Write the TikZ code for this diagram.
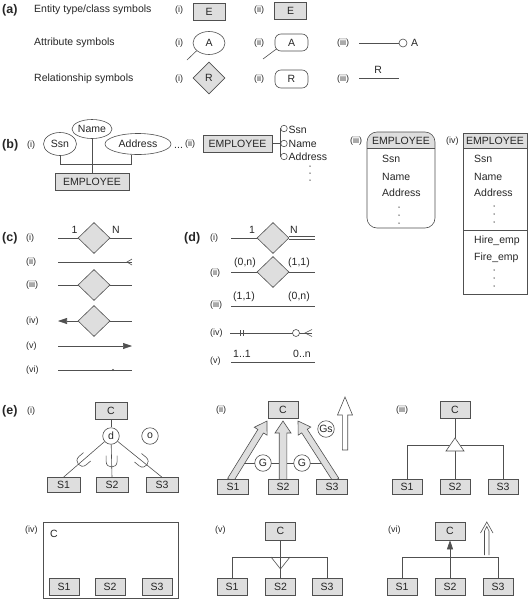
\documentclass[tikz,border=0pt]{standalone}
\usepackage{fontspec}
\setmainfont{Liberation Sans}
\usetikzlibrary{shapes.geometric,calc,arrows.meta}
\definecolor{lc}{HTML}{505050}
\definecolor{bf}{HTML}{DEDEDE}
\definecolor{tc}{HTML}{262626}
\newcommand\erfat[6]{%
  \coordinate (erh) at ($(#2)!#5!(#1)$);
  \filldraw[draw=lc, fill=#6, line width=0.6pt, line join=miter]
    ($(#1)!#3!90:(#2)$) -- ($(erh)!#3!90:(#2)$) -- ($(erh)!#4!90:(#2)$) -- (#2)
    -- ($(erh)!#4!-90:(#2)$) -- ($(erh)!#3!-90:(#2)$) -- ($(#1)!#3!-90:(#2)$) -- cycle;
}
\begin{document}
\begin{tikzpicture}[x=1pt,y=-1pt,
  every node/.style={text=tc, font=\fontsize{10.5}{12}\selectfont},
  ln/.style={draw=lc, line width=0.6pt},
  ent/.style={draw=lc, fill=bf, line width=0.6pt, inner sep=0pt, minimum width=#1, minimum height=17},
  ell/.style={ellipse, draw=lc, fill=white, line width=0.6pt, inner sep=0pt},
  rrect/.style={rectangle, rounded corners=6, draw=lc, fill=white, line width=0.6pt, inner sep=0pt},
  rel/.style={diamond, draw=lc, fill=bf, line width=0.6pt, inner sep=0pt, minimum width=32, minimum height=31},
  cir/.style={circle, draw=lc, fill=white, line width=0.6pt, inner sep=0pt, minimum size=#1},
  lab/.style={anchor=west, inner sep=0pt, font=\fontsize{9}{10}\selectfont},
  sec/.style={anchor=west, inner sep=0pt, font=\fontsize{12.5}{14}\selectfont\bfseries},
  txt/.style={anchor=west, inner sep=0pt},
  dotn/.style={circle, fill=lc, inner sep=0pt, minimum size=1.5},
  ftri/.style={-{Triangle[length=9pt,width=6pt]}}
]
\useasboundingbox (0,0) rectangle (528,600);
% ---------------- (a)
\node[sec] (seca) at (2,10) {(a)};
\node[txt] (ta1) at (34,10) {Entity type/class symbols};
\node[lab] (la1i) at (175,10) {(i)};
\node[ent=32] (aE1) at (209,11.5) {E};
\node[lab] (la1ii) at (254,10) {(ii)};
\node[ent=32] (aE2) at (290.5,11) {E};
\node[txt] (ta2) at (34,43) {Attribute symbols};
\node[lab] (la2i) at (175,43) {(i)};
\node[ell, minimum width=32, minimum height=23] (aA1) at (209,43) {A};
\coordinate (aA1e) at (187,60);
\draw[ln] (aA1e) -- (aA1.212);
\node[lab] (la2ii) at (254,43) {(ii)};
\node[rrect, minimum width=33, minimum height=17] (aA2) at (291.5,42.5) {A};
\coordinate (aA2e) at (263,59);
\draw[ln] (aA2e) -- ($(aA2.south west)+(2,-2.5)$);
\node[lab] (la2iii) at (337,43) {(iii)};
\coordinate (aA3s) at (359,43);
\node[cir=8] (aA3c) at (403,43) {};
\node[txt] (aA3t) at (411,43) {A};
\draw[ln] (aA3s) -- (aA3c.west);
\node[txt] (ta3) at (34,79) {Relationship symbols};
\node[lab] (la3i) at (175,79) {(i)};
\node[rel, minimum height=32] (aR1) at (209,78) {R};
\node[lab] (la3ii) at (254,79) {(ii)};
\node[rrect, minimum width=33, minimum height=18] (aR2) at (291.5,79) {R};
\node[lab] (la3iii) at (337,79) {(iii)};
\coordinate (aR3a) at (359,78); \coordinate (aR3b) at (399,78);
\draw[ln] (aR3a) -- node[above=1pt, pos=0.48] (aR3t) {R} (aR3b);
% ---------------- (b)
\node[sec] (secb) at (2,145) {(b)};
\node[lab] (lb1) at (27,145) {(i)};
\node[ell, minimum width=33, minimum height=23] (bSsn) at (60,144) {Ssn};
\node[ell, minimum width=40, minimum height=19] (bName) at (92,129) {Name};
\node[ell, minimum width=66, minimum height=21] (bAddr) at (138,144) {Address};
\node[txt] (bMore) at (174,148) {...};
\node[ent=74] (bE1) at (92,182) {EMPLOYEE};
\coordinate (bJ1) at (60,164); \coordinate (bJ2) at (131,164);
\draw[ln] (bSsn.south) -- (bJ1) -- (bJ2) -- (bAddr.south -| bJ2);
\draw[ln] (bName.south) -- (bE1.north);
\node[lab] (lb2) at (185,144) {(ii)};
\node[ent=69] (bE2) at (237.5,143.5) {EMPLOYEE};
\node[cir=6.5] (bc1) at (284,128.5) {};
\node[cir=6.5] (bc2) at (284,143.5) {};
\node[cir=6.5] (bc3) at (284,156.5) {};
\coordinate (bv1) at (280,128.5); \coordinate (bv3) at (280,156.5);
\draw[ln] (bE2.east) -- (bc2.west);
\draw[ln] (bc1.west) -- (bv1) -- (bv3) -- (bc3.west);
\node[txt] (bt1) at (288.5,129.5) {Ssn};
\node[txt] (bt2) at (288.5,144) {Name};
\node[txt] (bt3) at (288.5,157) {Address};
\node[dotn] (bd1) at (310,166) {}; \node[dotn] (bd2) at (310,173) {}; \node[dotn] (bd3) at (310,180) {};
% (iii)
\node[lab] (lb3) at (350,141) {(iii)};
\begin{scope}
\clip[rounded corners=10] (367,132) rectangle (435,228);
\fill[bf] (367,132) rectangle (435,148);
\end{scope}
\draw[ln] (367,148) -- (435,148);
\draw[ln, rounded corners=10] (367,132) rectangle (435,228);
\node (bE3) at (401,140.5) {EMPLOYEE};
\node[txt] (b3a) at (382,158.5) {Ssn};
\node[txt] (b3b) at (382,176.5) {Name};
\node[txt] (b3c) at (382,192.5) {Address};
\node[dotn] (b3d1) at (399,207) {}; \node[dotn] (b3d2) at (399,215) {}; \node[dotn] (b3d3) at (399,223) {};
% (iv)
\node[lab] (lb4) at (446,141) {(iv)};
\fill[bf] (463,133) rectangle (527,148);
\draw[ln] (463,148) -- (527,148);
\draw[ln] (463,230) -- (527,230);
\draw[ln] (463,133) rectangle (527,294);
\node (bE4) at (495,141) {EMPLOYEE};
\node[txt] (b4a) at (474,159) {Ssn};
\node[txt] (b4b) at (474,177) {Name};
\node[txt] (b4c) at (474,193) {Address};
\node[dotn] (b4d1) at (494,206) {}; \node[dotn] (b4d2) at (494,214) {}; \node[dotn] (b4d3) at (494,222) {};
\node[txt] (b4e) at (474,241) {Hire\_emp};
\node[txt] (b4f) at (474,258) {Fire\_emp};
\node[dotn] (b4d4) at (494,270) {}; \node[dotn] (b4d5) at (494,278) {}; \node[dotn] (b4d6) at (494,286) {};
% ---------------- (c)
\node[sec] (secc) at (2,238) {(c)};
\node[lab] (lc1) at (26,238) {(i)};
\node[lab] (lc2) at (26,262) {(ii)};
\node[lab] (lc3) at (26,285) {(iii)};
\node[lab] (lc4) at (26,321) {(iv)};
\node[lab] (lc5) at (26,346) {(v)};
\node[lab] (lc6) at (26,370) {(vi)};
\node[rel] (c1d) at (94,238) {};
\coordinate (c1a) at (58,238); \coordinate (c1b) at (132,238);
\draw[ln] (c1a) -- (c1d.west); \draw[ln] (c1d.east) -- (c1b);
\node (c1n1) at (74.5,230) {1}; \node (c1n2) at (116,230) {N};
\coordinate (c2a) at (58,262); \coordinate (c2b) at (132,262); \coordinate (c2p) at (127,262);
\draw[ln] (c2a) -- (c2b);
\draw[ln] ($(c2p)+(5,-3)$) -- (c2p) -- ($(c2p)+(5,3)$);
\node[rel] (c3d) at (94,285) {};
\coordinate (c3a) at (58,285); \coordinate (c3b) at (132,285);
\draw[ln] (c3a) -- (c3d.west); \draw[ln] (c3d.east) -- (c3b);
\node[rel] (c4d) at (94,321) {};
\coordinate (c4a) at (58,321); \coordinate (c4b) at (132,321);
\draw[ln, ftri] (c4d.west) -- (c4a); \draw[ln] (c4d.east) -- (c4b);
\coordinate (c5a) at (58,346); \coordinate (c5b) at (132,346);
\draw[ln, ftri] (c5a) -- (c5b);
\coordinate (c6a) at (58,370); \coordinate (c6b) at (132,370);
\draw[ln] (c6a) -- (c6b);
\node[dotn, minimum size=2.2] (c6dot) at (113,370) {};
% ---------------- (d)
\node[sec] (secd) at (184,238) {(d)};
\node[lab] (ld1) at (210,238) {(i)};
\node[lab] (ld2) at (210,273) {(ii)};
\node[lab] (ld3) at (210,305) {(iii)};
\node[lab] (ld4) at (210,333) {(iv)};
\node[lab] (ld5) at (210,361) {(v)};
\node[rel] (d1d) at (273,238) {};
\coordinate (d1a) at (231,238); \coordinate (d1b) at (315,238);
\draw[ln] (d1a) -- (d1d.west);
\draw[draw=lc, line width=0.6pt, double=white, double distance=2.4pt] (d1d.east) -- (d1b);
\node (d1n1) at (252,230) {1}; \node (d1n2) at (294,230) {N};
\node[rel] (d2d) at (273,272) {};
\coordinate (d2a) at (231,272); \coordinate (d2b) at (315,272);
\draw[ln] (d2a) -- (d2d.west); \draw[ln] (d2d.east) -- (d2b);
\node (d2n1) at (245,263) {(0,n)}; \node (d2n2) at (299,263) {(1,1)};
\coordinate (d3a) at (231,306); \coordinate (d3b) at (315,306);
\draw[ln] (d3a) -- (d3b);
\node (d3n1) at (244,297) {(1,1)}; \node (d3n2) at (299,297) {(0,n)};
\coordinate (d4a) at (230,333); \coordinate (d4b) at (312,333);
\coordinate (d4t1) at (240,333); \coordinate (d4t2) at (243,333); \coordinate (d4p) at (305,333);
\draw[ln] (d4a) -- (d4b);
\draw[ln] ($(d4t1)+(0,-3)$) -- ($(d4t1)+(0,3)$);
\draw[ln] ($(d4t2)+(0,-3)$) -- ($(d4t2)+(0,3)$);
\draw[ln] ($(d4p)+(7,-3.5)$) -- (d4p) -- ($(d4p)+(7,3.5)$);
\node[cir=7] (d4c) at (296,333) {};
\coordinate (d5a) at (231,362); \coordinate (d5b) at (315,362);
\draw[ln] (d5a) -- (d5b);
\node (d5n1) at (242,354) {1..1}; \node (d5n2) at (302,354) {0..n};
% ---------------- (e)(i)
\node[sec] (sece) at (2,411) {(e)};
\node[lab] (le1) at (27,411) {(i)};
\node[ent=32] (e1C) at (111,411) {C};
\node[cir=16.5] (e1d) at (111,436) {d};
\node[cir=16.5] (e1o) at (150,436) {o};
\node[ent=33, minimum height=15] (e1S1) at (63.5,485) {S1};
\node[ent=32, minimum height=15] (e1S2) at (112,485) {S2};
\node[ent=32, minimum height=15] (e1S3) at (162,485) {S3};
\draw[ln] (e1C) -- (e1d);
\draw[ln] (e1d) -- (e1S1.north);
\draw[ln] (e1d) -- (e1S2.north);
\draw[ln] (e1d) -- (e1S3.north);
\coordinate (e1u1) at ($(e1d.center)!0.6!(e1S1.north)$);
\coordinate (e1u2) at ($(e1d.center)!0.62!(e1S2.north)$);
\coordinate (e1u3) at ($(e1d.center)!0.62!(e1S3.north)$);
\begin{scope}[shift={(e1u1)}, rotate=-49.4]
\draw[ln] (-5.5,-6) -- (-5.5,0) .. controls (-5.5,7.3) and (5.5,7.3) .. (5.5,0) -- (5.5,-6);
\end{scope}
\begin{scope}[shift={(e1u2)}]
\draw[ln] (-5.5,-6) -- (-5.5,0) .. controls (-5.5,7.3) and (5.5,7.3) .. (5.5,0) -- (5.5,-6);
\end{scope}
\begin{scope}[shift={(e1u3)}, rotate=50.6]
\draw[ln] (-5.5,-6) -- (-5.5,0) .. controls (-5.5,7.3) and (5.5,7.3) .. (5.5,0) -- (5.5,-6);
\end{scope}
% ---------------- (e)(ii)
\node[lab] (le2) at (216,410) {(ii)};
\coordinate (e2a1) at (230.5,480); \coordinate (e2t1) at (267,421);
\coordinate (e2a2) at (283,480); \coordinate (e2t2) at (283,421);
\coordinate (e2a3) at (336,480); \coordinate (e2t3) at (298,421);
\coordinate (e2gl) at ($(e2a1)!0.29!(e2t1)$);
\coordinate (e2gr) at ($(e2a3)!0.29!(e2t3)$);
\draw[ln] (e2gl) -- (e2gr);
\erfat{e2a1}{e2t1}{3.3pt}{7.5pt}{12pt}{bf}
\erfat{e2a2}{e2t2}{3.8pt}{8pt}{12pt}{bf}
\erfat{e2a3}{e2t3}{3.3pt}{7.5pt}{12pt}{bf}
\node[ent=30] (e2C) at (283,410) {C};
\node[ent=31, minimum height=15] (e2S1) at (233,487) {S1};
\node[ent=30, minimum height=15] (e2S2) at (283,487) {S2};
\node[ent=31, minimum height=15] (e2S3) at (332,487) {S3};
\node[cir=16.5] (e2G1) at (263,463) {G};
\node[cir=16.5] (e2G2) at (302,463) {G};
\node[cir=16.5] (e2Gs) at (326,429) {Gs};
\coordinate (e2ha) at (345,450); \coordinate (e2ht) at (345,397);
\erfat{e2ha}{e2ht}{2.7pt}{7.5pt}{18pt}{white}
% ---------------- (e)(iii)
\node[lab] (le3) at (396,410) {(iii)};
\node[ent=30] (e3C) at (455,410) {C};
\node[ent=30, minimum height=15] (e3S1) at (407,487) {S1};
\node[ent=30, minimum height=15] (e3S2) at (455,487) {S2};
\node[ent=30, minimum height=15] (e3S3) at (503,487) {S3};
\coordinate (e3L) at (407,445); \coordinate (e3R) at (503,445);
\coordinate (e3ap) at (455,438); \coordinate (e3bl) at (446,451);
\coordinate (e3br) at (464,451); \coordinate (e3bm) at (455,451);
\draw[ln] (e3S1.north) -- (e3L) -- (e3R) -- (e3S3.north);
\draw[ln] (e3C.south) -- (e3ap);
\draw[ln] (e3S2.north) -- (e3bm);
\draw[ln, fill=white] (e3ap) -- (e3bl) -- (e3br) -- cycle;
% ---------------- (e)(iv)
\node[lab] (le4) at (25,530) {(iv)};
\node[draw=lc, line width=0.6pt, minimum width=135, minimum height=76, inner sep=0pt] (e4box) at (110.5,560) {};
\node[txt] (e4C) at (50,534) {C};
\node[ent=30] (e4S1) at (64,587) {S1};
\node[ent=30] (e4S2) at (110,587) {S2};
\node[ent=30] (e4S3) at (157,587) {S3};
% ---------------- (e)(v)
\node[lab] (le5) at (215,530) {(v)};
\node[ent=30, minimum height=18] (e5C) at (280.5,531) {C};
\node[ent=30] (e5S1) at (232,587) {S1};
\node[ent=30] (e5S2) at (280.5,587) {S2};
\node[ent=30] (e5S3) at (327,587) {S3};
\coordinate (e5L) at (232,557); \coordinate (e5R) at (327,557);
\coordinate (e5vl) at (271,557); \coordinate (e5vr) at (290,557); \coordinate (e5ap) at (280.5,569);
\draw[ln] (e5S1.north) -- (e5L) -- (e5R) -- (e5S3.north);
\draw[ln] (e5C.south) -- (e5S2.north);
\draw[ln] (e5vl) -- (e5ap) -- (e5vr);
% ---------------- (e)(vi)
\node[lab] (le6) at (388,530) {(vi)};
\node[ent=30, minimum height=18] (e6C) at (450,531) {C};
\node[ent=30] (e6S1) at (402,587) {S1};
\node[ent=30] (e6S2) at (450,587) {S2};
\node[ent=30] (e6S3) at (498,587) {S3};
\coordinate (e6L) at (402,557); \coordinate (e6R) at (498,557);
\draw[ln] (e6S1.north) -- (e6L) -- (e6R) -- (e6S3.north);
\draw[ln, ftri] (e6S2.north) -- (e6C.south);
\coordinate (e6b1) at (484.5,555); \coordinate (e6b2) at (489,555);
\coordinate (e6i1) at (484.5,531); \coordinate (e6i2) at (489,531); \coordinate (e6ip) at (486.8,526.5);
\coordinate (e6o1) at (480.5,533); \coordinate (e6o2) at (493,533); \coordinate (e6op) at (486.8,522);
\draw[ln] (e6b1) -- (e6i1) -- (e6ip) -- (e6i2) -- (e6b2);
\draw[ln] (e6o1) -- (e6op) -- (e6o2);
\end{tikzpicture}
\end{document}
